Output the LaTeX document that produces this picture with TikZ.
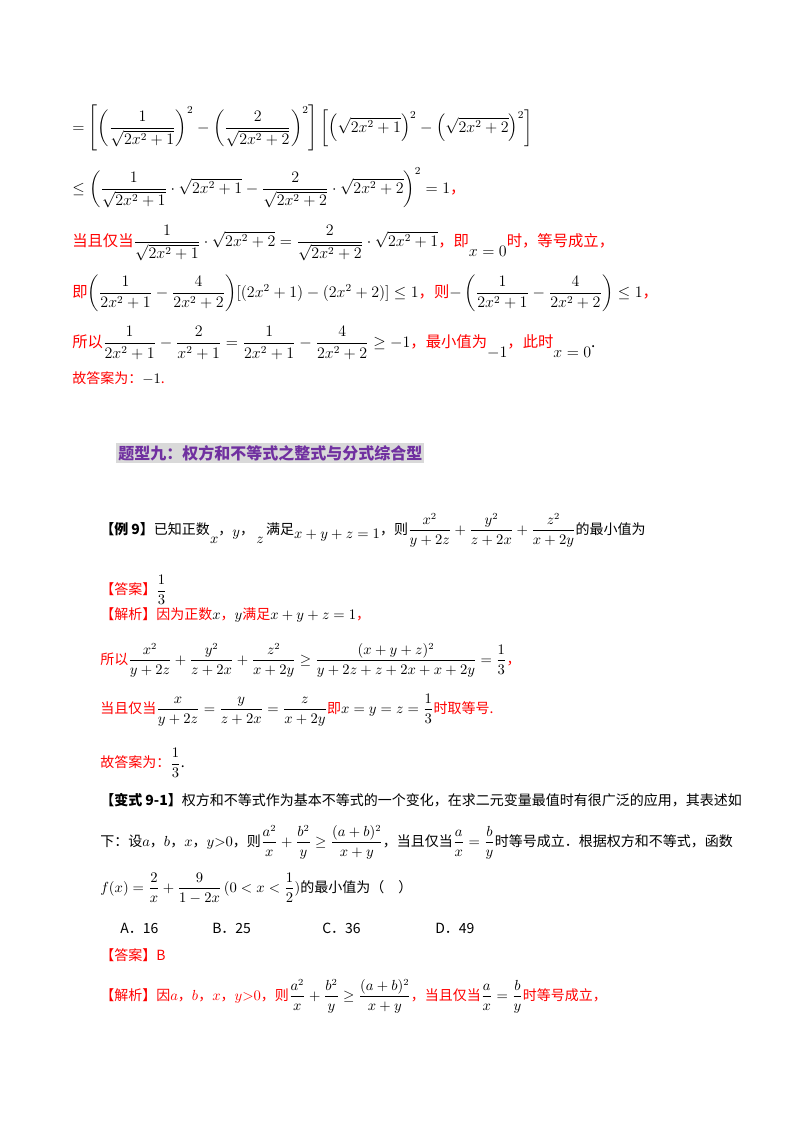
\documentclass[tikz,border=0pt]{standalone}
\usepackage{amsmath,amssymb}
\usepackage{fontspec}
\setmainfont{Noto Sans CJK SC}
\begin{document}
\begin{tikzpicture}[x=0.75pt,y=-0.75pt,
  ln/.style={anchor=west,inner sep=0pt,font=\fontsize{10.5}{12}\selectfont},
  rd/.style={ln,text=red},
  big/.style={font=\fontsize{11.5}{13}\selectfont}]
\useasboundingbox (0,0) rectangle (800,1132);
\definecolor{hd}{RGB}{112,48,160}
\node[ln,big] (l1) at (72,128) {$=\left[\left(\dfrac{1}{\sqrt{2x^2+1}}\right)^{2}-\left(\dfrac{2}{\sqrt{2x^2+2}}\right)^{2}\right]\left[\left(\sqrt{2x^2+1}\right)^2-\left(\sqrt{2x^2+2}\right)^2\right]$};
\node[ln,big] (l2) at (72,188) {$\le\left(\dfrac{1}{\sqrt{2x^2+1}}\cdot\sqrt{2x^2+1}-\dfrac{2}{\sqrt{2x^2+2}}\cdot\sqrt{2x^2+2}\right)^{2}=1$\textcolor{red}{，}};
\node[rd,big] (l3) at (72,243) {当且仅当\textcolor{black}{$\dfrac{1}{\sqrt{2x^2+1}}\cdot\sqrt{2x^2+2}=\dfrac{2}{\sqrt{2x^2+2}}\cdot\sqrt{2x^2+1}$}，即\raisebox{-1.2ex}{\textcolor{black}{$x=0$}}时，等号成立，};
\node[rd,big] (l4) at (72,293) {即\textcolor{black}{$\left(\dfrac{1}{2x^2+1}-\dfrac{4}{2x^2+2}\right)\!\left[\left(2x^2+1\right)-\left(2x^2+2\right)\right]\le1$}，则\textcolor{black}{$-\left(\dfrac{1}{2x^2+1}-\dfrac{4}{2x^2+2}\right)\le1$}，};
\node[rd,big] (l5) at (72,343) {所以\textcolor{black}{$\dfrac{1}{2x^2+1}-\dfrac{2}{x^2+1}=\dfrac{1}{2x^2+1}-\dfrac{4}{2x^2+2}\ge-1$}，最小值为\raisebox{-1.2ex}{\textcolor{black}{$-1$}}，此时\raisebox{-1.2ex}{\textcolor{black}{$x=0$}}\textcolor{black}{.}};
\node[rd] (l6) at (72,378) {故答案为：\textcolor{black}{$-1$}.};
\node[anchor=west,inner sep=1.5pt,fill=black!15,text=hd,font=\fontsize{12}{13}\selectfont\bfseries] (hd) at (116,453) {题型九：权方和不等式之整式与分式综合型};
\node[ln] (e1) at (100,530) {\textbf{【例 9】}已知正数\raisebox{-1.2ex}{$x$}，\raisebox{-.3ex}{$y$}，\,\raisebox{-1.2ex}{$z$}\,满足\raisebox{-.6ex}{$x+y+z=1$}，则$\dfrac{x^2}{y+2z}+\dfrac{y^2}{z+2x}+\dfrac{z^2}{x+2y}$的最小值为};
\node[rd] (e2) at (100,590) {【答案】\textcolor{black}{$\dfrac13$}};
\node[rd] (e3) at (100,615) {【解析】因为正数\textcolor{black}{$x$}，\textcolor{black}{$y$}满足\textcolor{black}{$x+y+z=1$}，};
\node[rd] (e4) at (100,660) {所以\textcolor{black}{$\dfrac{x^2}{y+2z}+\dfrac{y^2}{z+2x}+\dfrac{z^2}{x+2y}\ge\dfrac{(x+y+z)^2}{y+2z+z+2x+x+2y}=\dfrac13$}，};
\node[rd] (e5) at (100,710) {当且仅当\textcolor{black}{$\dfrac{x}{y+2z}=\dfrac{y}{z+2x}=\dfrac{z}{x+2y}$}即\textcolor{black}{$x=y=z=\dfrac13$}时取等号.};
\node[rd] (e6) at (100,763) {故答案为：\textcolor{black}{$\dfrac13$}\textcolor{black}{.}};
\node[ln] (v1) at (100,800) {\textbf{【变式 9-1】}权方和不等式作为基本不等式的一个变化，在求二元变量最值时有很广泛的应用，其表述如};
\node[ln] (v2) at (100,842) {下：设$a$，$b$，$x$，$y{>}0$，则$\dfrac{a^2}{x}+\dfrac{b^2}{y}\ge\dfrac{(a+b)^2}{x+y}$，当且仅当$\dfrac ax=\dfrac by$时等号成立．根据权方和不等式，函数};
\node[ln] (v3) at (100,888) {$f(x)=\dfrac2x+\dfrac{9}{1-2x}\,(0<x<\dfrac12)$的最小值为（\quad ）};
\node[ln] (oa) at (120,928) {A．16};
\node[ln] (ob) at (212,928) {B．25};
\node[ln] (oc) at (322,928) {C．36};
\node[ln] (od) at (435,928) {D．49};
\node[rd] (v4) at (100,955) {【答案】B};
\node[rd] (v5) at (100,996) {【解析】因$a$，$b$，$x$，$y{>}0$，则\textcolor{black}{$\dfrac{a^2}{x}+\dfrac{b^2}{y}\ge\dfrac{(a+b)^2}{x+y}$}，当且仅当\textcolor{black}{$\dfrac ax=\dfrac by$}时等号成立，};
\end{tikzpicture}
\end{document}
